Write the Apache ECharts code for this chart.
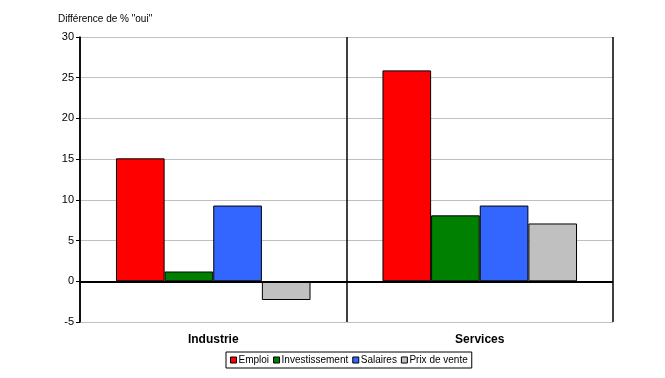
<!DOCTYPE html>
<html lang="fr">
<head>
    <meta charset="utf-8">
    <title>Différence de % oui</title>
    <script src="https://cdn.jsdelivr.net/npm/echarts@6/dist/echarts.min.js"></script>
    <style>
        html, body { margin: 0; padding: 0; background: #fff; }
        #main { width: 665px; height: 378px; }
    </style>
</head>
<body>
<div id="main"></div>
<script type="text/javascript">
    // données
    var categories = ['Industrie', 'Services'];
    var emploi = [15.1, 25.9];
    var investissement = [1.2, 8.1];
    var salaires = [9.3, 9.3];
    var prixVente = [-2.3, 7.1];
    var yTicks = { min: -5, max: 30, interval: 5 };

    var font = 'Liberation Sans, Arial, sans-serif';

    function bar(name, data, color) {
        return {
            name: name,
            type: 'bar',
            data: data,
            barGap: '0%',
            barCategoryGap: '27%',
            itemStyle: { color: color, borderColor: '#000', borderWidth: 1 }
        };
    }

    var series = [
        bar('Emploi', emploi, '#ff0000'),
        bar('Investissement', investissement, '#008000'),
        bar('Salaires', salaires, '#3366ff'),
        bar('Prix de vente', prixVente, '#c0c0c0')
    ];
    // ligne du zéro
    series[0].markLine = {
        silent: true,
        symbol: 'none',
        label: { show: false },
        lineStyle: { color: '#000', width: 2, type: 'solid' },
        data: [{ yAxis: 0 }]
    };

    var myChart = echarts.init(document.getElementById('main'));
    myChart.setOption({
        animation: false,
        textStyle: { fontFamily: font },
        title: {
            text: 'Différence de % "oui"',
            left: 53,
            top: 9,
            textStyle: { fontSize: 10, fontWeight: 'normal', color: '#000', fontFamily: font }
        },
        legend: {
            bottom: 10,
            left: 226,
            data: ['Emploi', 'Investissement', 'Salaires', 'Prix de vente'],
            icon: 'rect',
            itemWidth: 6,
            itemHeight: 6,
            itemGap: 4,
            itemStyle: { borderColor: '#000', borderWidth: 1 },
            borderColor: '#000',
            borderWidth: 1,
            borderRadius: 0,
            padding: [3, 4],
            textStyle: { fontSize: 10, color: '#000', padding: [0, 0, 0, -3] }
        },
        grid: { left: 80, right: 52, top: 37, bottom: 56, containLabel: false },
        xAxis: {
            type: 'category',
            data: categories,
            axisLine: { show: false, onZero: false },
            axisTick: { show: false },
            axisLabel: { fontSize: 12, fontWeight: 'bold', color: '#000', margin: 12 },
            splitLine: { show: true, lineStyle: { color: '#000', width: 1.5 } }
        },
        yAxis: {
            type: 'value',
            min: yTicks.min,
            max: yTicks.max,
            interval: yTicks.interval,
            axisLine: { show: true, lineStyle: { color: '#000', width: 1.5 } },
            axisTick: { show: true, length: 4, lineStyle: { color: '#000' } },
            axisLabel: { fontSize: 11, color: '#000', margin: 6 },
            splitLine: { show: true, lineStyle: { color: '#c0c0c0', width: 1 } }
        },
        series: series
    });
</script>
</body>
</html>
